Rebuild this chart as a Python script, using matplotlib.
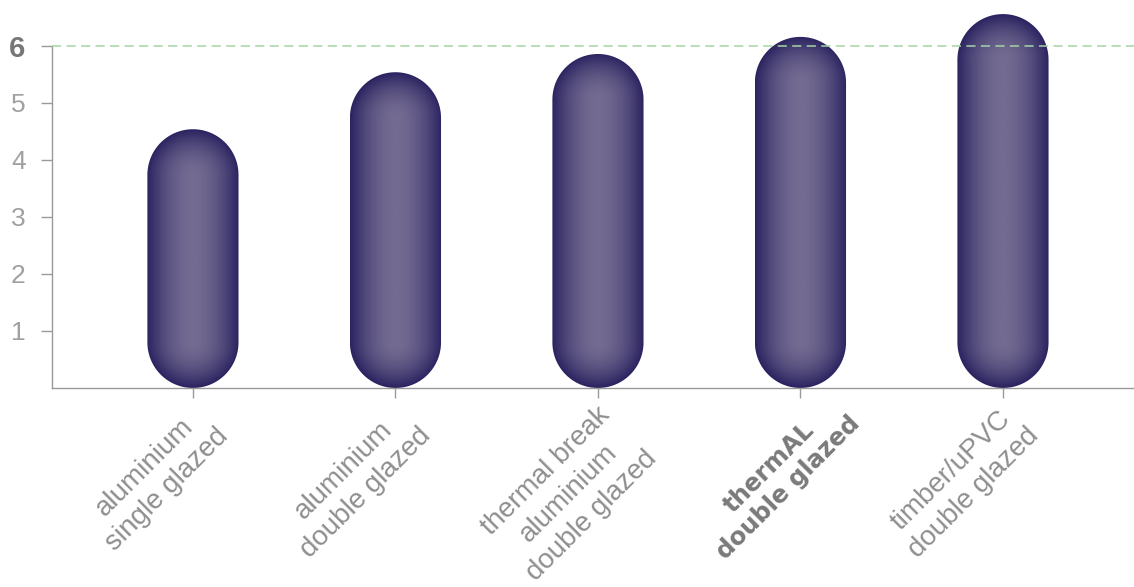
import numpy as np
import matplotlib
matplotlib.use("Agg")
import matplotlib.pyplot as plt
import matplotlib.transforms as mtransforms
from matplotlib.path import Path
from matplotlib.patches import PathPatch
from matplotlib.colors import LinearSegmentedColormap

# ── data ────────────────────────────────────────────────────────────────
categories = [
    "aluminium\nsingle glazed",
    "aluminium\ndouble glazed",
    "thermal break\naluminium\ndouble glazed",
    "thermAL\ndouble glazed",
    "timber/uPVC\ndouble glazed",
]
values = [4.54, 5.54, 5.86, 6.16, 6.56]
highlight = 3          # index of the bold category
y_ticks = [1, 2, 3, 4, 5, 6]
target = 6

plt.rcParams["font.family"] = ["Liberation Sans", "DejaVu Sans"]
GREY = "#8f8f8f"
DARK = "#2a2360"
LIGHT = "#736b91"
cmap = LinearSegmentedColormap.from_list("pill", [LIGHT, DARK])

fig = plt.figure(figsize=(11.34, 5.87), dpi=100)
ax = fig.add_axes([52 / 1134, 1 - 388 / 587, 1 - 52 / 1134, 388 / 587])
ax.set_xlim(-0.696, 4.647)
ax.set_ylim(0, 6.807)

# bar geometry in data units; vertical cap radius follows the pixel aspect
width = 0.45
rx = width / 2
fig.canvas.draw()
p0 = ax.transData.transform((0, 0))
p1 = ax.transData.transform((1, 1))
ry = rx * (p1[0] - p0[0]) / (p1[1] - p0[1])

for i, v in enumerate(values):
    cx = i
    t_top = np.linspace(0, np.pi, 60)
    t_bot = np.linspace(np.pi, 2 * np.pi, 60)
    xs = np.concatenate([cx + rx * np.cos(t_top), cx + rx * np.cos(t_bot)])
    ys = np.concatenate([v - ry + ry * np.sin(t_top), ry + ry * np.sin(t_bot)])
    verts = np.column_stack([xs, ys])
    verts = np.vstack([verts, verts[:1]])
    codes = [Path.MOVETO] + [Path.LINETO] * (len(verts) - 2) + [Path.CLOSEPOLY]
    patch = PathPatch(Path(verts, codes), facecolor="none", edgecolor="none")
    ax.add_patch(patch)

    gx = np.linspace(cx - rx, cx + rx, 200)
    gy = np.linspace(0, v, 500)
    X, Y = np.meshgrid(gx, gy)
    u = (X - cx) / rx
    yc = np.clip(Y, ry, v - ry)
    w = (Y - yc) / ry
    d = np.clip(np.sqrt(u ** 2 + w ** 2), 0, 1)
    shade = d ** 1.8
    im = ax.imshow(shade, extent=(cx - rx, cx + rx, 0, v), origin="lower",
                   cmap=cmap, vmin=0, vmax=1, aspect="auto",
                   interpolation="bilinear", zorder=2)
    im.set_clip_path(patch)

ax.axhline(target, color="#a3d4a6", lw=1.1, ls=(0, (6, 3.5)), zorder=5)

# axes styling
for s in ("top", "right"):
    ax.spines[s].set_visible(False)
for s in ("left", "bottom"):
    ax.spines[s].set_color("#999999")
    ax.spines[s].set_linewidth(1)
ax.spines["left"].set_bounds(0, 6)

ax.set_yticks(y_ticks)
ax.set_yticklabels([str(t) for t in y_ticks])
ax.tick_params(axis="y", length=8, width=1, color="#999999", pad=11,
               labelsize=19, labelcolor="#a0a0a0")
for lbl, t in zip(ax.get_yticklabels(), y_ticks):
    if t == target:
        lbl.set_fontweight("bold")
        lbl.set_color("#777777")
        lbl.set_fontsize(21)

ax.set_xticks(range(len(categories)))
ax.set_xticklabels(categories, rotation=45, ha="right", va="top",
                   rotation_mode="anchor", multialignment="center")
ax.tick_params(axis="x", length=7, width=1, color="#999999", pad=2,
               labelsize=20, labelcolor=GREY)
shift = mtransforms.ScaledTranslation(0.28, 0.09, fig.dpi_scale_trans)
for i, lbl in enumerate(ax.get_xticklabels()):
    lbl.set_linespacing(1.3)
    if i == highlight:
        lbl.set_family(["DejaVu Sans"])
        lbl.set_fontweight("bold")
        lbl.set_fontsize(17.6)
        lbl.set_linespacing(1.2)
        lbl.set_color("#7a7a7a")
        lbl.set_transform(lbl.get_transform() + shift)

fig.savefig("out.png", dpi=100)
